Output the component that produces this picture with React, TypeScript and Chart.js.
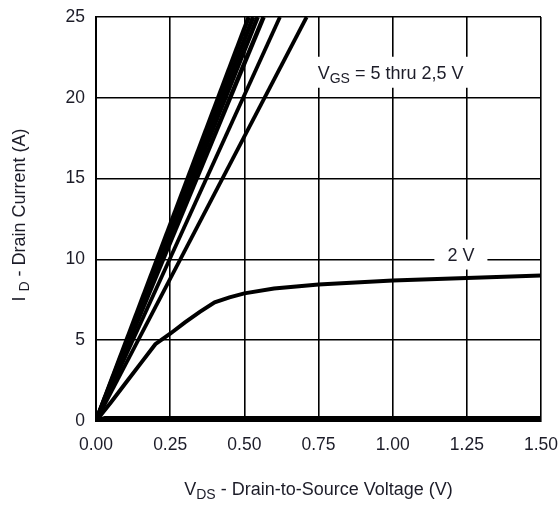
import React, { useEffect, useRef } from "react";
import { Chart, registerables } from "chart.js";

Chart.register(...registerables);

// VDS (V) and ID (A) values
const vds5V = [0, 0.515];
const id5V = [0, 25];
const vds45V = [0, 0.53];
const id45V = [0, 25];
const vds4V = [0, 0.545];
const id4V = [0, 25];
const vds35V = [0, 0.565];
const id35V = [0, 25];
const vds3V = [0, 0.62];
const id3V = [0, 25];
const vds25V = [0, 0.71];
const id25V = [0, 25];
const vds2V = [0, 0.05, 0.1, 0.15, 0.2, 0.25, 0.3, 0.35, 0.4, 0.45, 0.5, 0.6, 0.75, 1.0, 1.25, 1.5];
const id2V = [0, 1.15, 2.35, 3.55, 4.75, 5.4, 6.1, 6.75, 7.35, 7.65, 7.9, 8.2, 8.45, 8.7, 8.85, 9.0];
const vdsOff = [0, 0.03, 1.5];
const idOff = [0, 0.15, 0.15];

const xTickValues = [0, 0.25, 0.5, 0.75, 1.0, 1.25, 1.5];
const yTickValues = [0, 5, 10, 15, 20, 25];

const xTitle = [
  { t: "V", sub: false },
  { t: "DS", sub: true },
  { t: " - Drain-to-Source Voltage (V)", sub: false },
];
const yTitle = [
  { t: "I ", sub: false },
  { t: "D", sub: true },
  { t: " - Drain Current (A)", sub: false },
];
const vgsLabel = [
  { t: "V", sub: false },
  { t: "GS", sub: true },
  { t: " = 5 thru 2,5 V", sub: false },
];
const twoVLabel = [{ t: "2 V", sub: false }];

const FONT = "'Liberation Sans', Arial, Helvetica, sans-serif";
const TEXT = "#1c1c28";

function pts(xs: number[], ys: number[]) {
  return xs.map((x, i) => ({ x, y: ys[i] }));
}

function richWidth(ctx: CanvasRenderingContext2D, segs: { t: string; sub: boolean }[], size: number) {
  let w = 0;
  for (const s of segs) {
    ctx.font = `${s.sub ? size * 0.78 : size}px ${FONT}`;
    w += ctx.measureText(s.t).width;
  }
  return w;
}

function drawRich(
  ctx: CanvasRenderingContext2D,
  segs: { t: string; sub: boolean }[],
  size: number,
  x: number,
  y: number
) {
  let cx = x;
  ctx.textBaseline = "alphabetic";
  ctx.textAlign = "left";
  for (const s of segs) {
    const fs = s.sub ? size * 0.78 : size;
    ctx.font = `${fs}px ${FONT}`;
    ctx.fillText(s.t, cx, s.sub ? y + size * 0.22 : y);
    cx += ctx.measureText(s.t).width;
  }
}

const annotationPlugin = {
  id: "annot",
  afterDatasetsDraw(chart: any) {
    const ctx: CanvasRenderingContext2D = chart.ctx;
    const xs = chart.scales.x;
    const ys = chart.scales.y;
    ctx.save();
    {
      const cx = xs.getPixelForValue(0.993);
      const cy = ys.getPixelForValue(21.55);
      const size = 18;
      const w = richWidth(ctx, vgsLabel, size);
      ctx.fillStyle = "#ffffff";
      ctx.fillRect(cx - w / 2 - 8, cy - 16, w + 16, 31);
      ctx.fillStyle = TEXT;
      drawRich(ctx, vgsLabel, size, cx - w / 2, cy + 6);
    }
    {
      const cx = xs.getPixelForValue(1.23);
      const cy = ys.getPixelForValue(10.3);
      const size = 18;
      const w = richWidth(ctx, twoVLabel, size);
      ctx.fillStyle = "#ffffff";
      ctx.fillRect(cx - w / 2 - 13, cy - 15, w + 26, 30);
      ctx.fillStyle = TEXT;
      drawRich(ctx, twoVLabel, size, cx - w / 2, cy + 6);
    }
    ctx.restore();
  },
  afterDraw(chart: any) {
    const ctx: CanvasRenderingContext2D = chart.ctx;
    const area = chart.chartArea;
    ctx.save();
    ctx.fillStyle = TEXT;
    {
      const size = 18;
      const w = richWidth(ctx, xTitle, size);
      const cx = (area.left + area.right) / 2;
      drawRich(ctx, xTitle, size, cx - w / 2, 495);
    }
    {
      const size = 18;
      const w = richWidth(ctx, yTitle, size);
      const cy = 215;
      ctx.translate(25, cy);
      ctx.rotate(-Math.PI / 2);
      drawRich(ctx, yTitle, size, -w / 2, 0);
    }
    ctx.restore();
  },
};

export default function App() {
  const ref = useRef<HTMLCanvasElement | null>(null);

  useEffect(() => {
    document.body.style.margin = "0";
    const canvas = ref.current;
    if (!canvas) return;
    const line = (data: any[], width = 3.5) => ({
      data,
      borderColor: "#000000",
      backgroundColor: "#000000",
      borderWidth: width,
      pointRadius: 0,
      showLine: true,
      tension: 0,
      fill: false,
    });
    const chart = new Chart(canvas, {
      type: "scatter",
      data: {
        datasets: [
          line(pts(vds5V, id5V), 4.5),
          line(pts(vds45V, id45V), 4.5),
          line(pts(vds4V, id4V), 4.5),
          line(pts(vds35V, id35V), 4.5),
          line(pts(vds3V, id3V), 3.8),
          line(pts(vds25V, id25V), 3.8),
          line(pts(vds2V, id2V), 4),
          line(pts(vdsOff, idOff), 5),
        ],
      },
      options: {
        responsive: false,
        animation: false,
        events: [],
        layout: { padding: { top: 17, right: 19, left: 0, bottom: 0 } },
        plugins: {
          legend: { display: false },
          tooltip: { enabled: false },
          title: { display: false },
        },
        scales: {
          x: {
            type: "linear",
            min: 0,
            max: 1.5,
            afterFit: (s: any) => {
              s.height = 85;
              s.paddingLeft = 0;
              s.paddingRight = 0;
            },
            afterBuildTicks: (s: any) => {
              s.ticks = xTickValues.map((v) => ({ value: v }));
            },
            ticks: {
              padding: 14,
              color: TEXT,
              font: { family: FONT, size: 17.5 },
              maxRotation: 0,
              callback: (v: any) => Number(v).toFixed(2),
            },
            grid: { color: "#000000", lineWidth: 1.6, drawTicks: false },
            border: { color: "#000000", width: 2 },
          },
          y: {
            type: "linear",
            min: 0,
            max: 25,
            afterFit: (s: any) => {
              s.width = 96;
              s.paddingTop = 0;
              s.paddingBottom = 0;
            },
            afterBuildTicks: (s: any) => {
              s.ticks = yTickValues.map((v) => ({ value: v }));
            },
            ticks: {
              padding: 11,
              color: TEXT,
              font: { family: FONT, size: 17.5 },
              callback: (v: any) => String(v),
            },
            grid: { color: "#000000", lineWidth: 1.6, drawTicks: false },
            border: { color: "#000000", width: 2 },
          },
        },
      } as any,
      plugins: [annotationPlugin],
    });
    return () => chart.destroy();
  }, []);

  return (
    <div style={{ width: 560, height: 506, background: "#ffffff" }}>
      <canvas ref={ref} width={560} height={506} style={{ display: "block" }} />
    </div>
  );
}
